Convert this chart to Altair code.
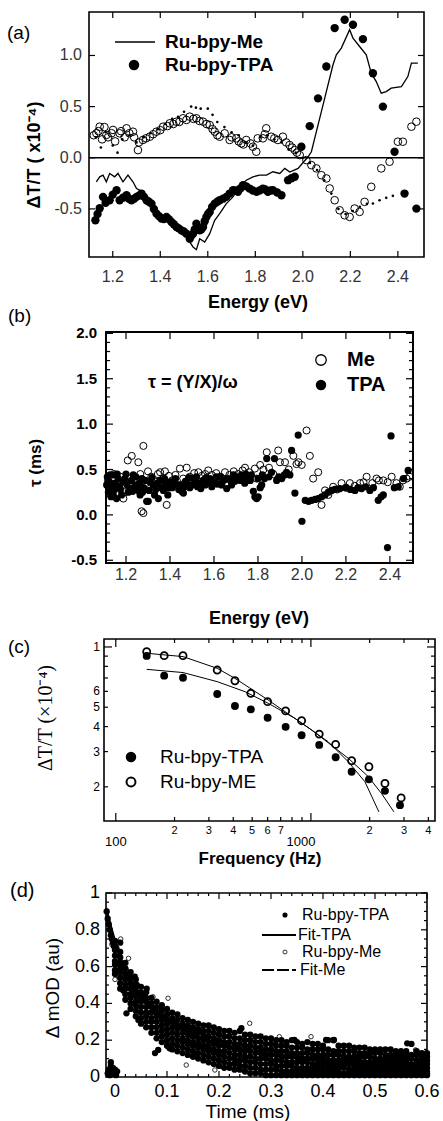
import altair as alt
import pandas as pd

SANS = "Liberation Sans"
SERIF = "Liberation Serif"

# ---------------- data ----------------
# (a) Energy (eV) vs dT/T (x1e-4)
A_ME_LINE = [(1.131,-0.235),(1.145,-0.186),(1.159,-0.170),(1.173,-0.235),(1.187,-0.153),(1.208,-0.186),
             (1.222,-0.153),(1.243,-0.235),(1.264,-0.170),(1.285,-0.235),(1.300,-0.301),(1.327,-0.333),
             (1.356,-0.415),(1.398,-0.546),(1.440,-0.611),(1.482,-0.710),(1.510,-0.775),(1.538,-0.872),
             (1.552,-0.898),(1.566,-0.791),(1.587,-0.824),(1.608,-0.742),(1.629,-0.611),(1.650,-0.546),
             (1.678,-0.448),(1.706,-0.382),(1.734,-0.284),(1.762,-0.219),(1.790,-0.186),(1.818,-0.170),
             (1.847,-0.170),(1.874,-0.137),(1.903,-0.153),(1.924,-0.104),(1.945,-0.140),(1.980,-0.104),
             (2.022,0.010),(2.036,0.059),(2.078,0.451),(2.127,0.909),(2.141,1.007),(2.162,1.072),
             (2.197,1.252),(2.211,1.170),(2.239,1.088),(2.267,1.007),(2.288,0.827),(2.309,0.745),
             (2.330,0.631),(2.351,0.647),(2.372,0.680),(2.415,0.696),(2.442,0.794),(2.457,0.925),(2.484,0.925)]
A_TPA = [(1.127,-0.611),(1.136,-0.55),(1.145,-0.494),(1.159,-0.382),(1.170,-0.44),(1.187,-0.415),(1.200,-0.36),
         (1.216,-0.317),(1.229,-0.415),(1.243,-0.39),(1.258,-0.366),(1.268,-0.40),(1.279,-0.415),(1.290,-0.40),
         (1.300,-0.382),(1.310,-0.37),(1.321,-0.350),(1.331,-0.38),(1.342,-0.415),(1.352,-0.43),(1.363,-0.448),
         (1.373,-0.50),(1.384,-0.546),(1.394,-0.57),(1.405,-0.595),(1.415,-0.60),(1.426,-0.579),(1.436,-0.60),
         (1.447,-0.628),(1.457,-0.65),(1.468,-0.677),(1.478,-0.69),(1.489,-0.710),(1.499,-0.72),(1.510,-0.742),
         (1.524,-0.791),(1.531,-0.76),(1.538,-0.742),(1.545,-0.70),(1.552,-0.644),(1.559,-0.68),(1.566,-0.710),
         (1.573,-0.70),(1.580,-0.677),(1.587,-0.62),(1.594,-0.579),(1.601,-0.55),(1.608,-0.530),(1.618,-0.48),
         (1.629,-0.448),(1.640,-0.43),(1.650,-0.415),(1.664,-0.40),(1.678,-0.382),(1.692,-0.35),(1.706,-0.317),
         (1.716,-0.32),(1.727,-0.333),(1.737,-0.30),(1.748,-0.268),(1.762,-0.28),(1.776,-0.301),(1.790,-0.32),
         (1.805,-0.333),(1.818,-0.32),(1.832,-0.301),(1.842,-0.31),(1.853,-0.333),(1.864,-0.32),(1.874,-0.317),
         (1.892,-0.34),(1.910,-0.366),(1.938,-0.219),(1.952,-0.20),(1.966,-0.186),(1.994,0.108),(2.029,0.309),
         (2.064,0.581),(2.099,0.892),(2.134,1.268),(2.176,1.349),(2.211,1.300),(2.253,1.160),(2.295,0.826),
         (2.337,0.500),(2.386,0.059),(2.428,-0.350),(2.478,-0.497)]
A_ME_Q = [(1.120,0.22),(1.131,0.239),(1.140,0.26),(1.145,0.304),(1.155,0.18),(1.165,0.30),(1.173,0.223),
          (1.180,0.20),(1.195,0.24),(1.201,0.272),(1.210,0.16),(1.229,0.239),(1.235,0.26),(1.250,0.20),
          (1.258,0.288),(1.270,0.24),(1.285,0.255),(1.290,0.20),(1.306,0.075),(1.310,0.15),(1.327,0.174),
          (1.340,0.19),(1.356,0.206),(1.370,0.23),(1.384,0.255),(1.400,0.27),(1.412,0.304),(1.430,0.31),
          (1.440,0.337),(1.455,0.33),(1.468,0.353),(1.480,0.35),(1.496,0.386),(1.510,0.37),(1.524,0.402),
          (1.540,0.38),(1.552,0.386),(1.565,0.36),(1.580,0.353),(1.595,0.33),(1.608,0.320),(1.620,0.28),
          (1.629,0.255),(1.640,0.22),(1.650,0.206),(1.671,0.239),(1.692,0.174),(1.700,0.20),(1.720,0.190),
          (1.730,0.16),(1.741,0.141),(1.750,0.13),(1.762,0.174),(1.780,0.14),(1.790,0.108),(1.804,0.059),
          (1.810,0.19),(1.832,0.190),(1.840,0.23),(1.846,0.288),(1.867,0.206),(1.880,0.19),(1.895,0.174),
          (1.916,0.206),(1.930,0.15),(1.944,0.124),(1.955,0.10),(1.966,0.075),(1.975,0.05),(1.987,0.026),
          (2.015,-0.023),(2.036,-0.072),(2.057,-0.104),(2.078,-0.170),(2.099,-0.202),(2.113,-0.300),
          (2.134,-0.415),(2.155,-0.513),(2.176,-0.562),(2.197,-0.578),(2.218,-0.496),(2.239,-0.529),
          (2.260,-0.431),(2.288,-0.284),(2.330,-0.104),(2.365,-0.039),(2.400,0.157),(2.421,0.157),
          (2.457,0.304),(2.478,0.353)]
A_TPA_Q = [(1.13,0.20),(1.15,0.10),(1.17,0.25),(1.20,0.12),(1.22,0.05),(1.24,0.18),(1.27,0.22),(1.30,0.15),
           (1.33,0.20),(1.36,0.24),(1.39,0.28),(1.42,0.33),(1.45,0.38),(1.475,0.40),(1.50,0.45),(1.53,0.50),
           (1.55,0.49),(1.57,0.48),(1.60,0.48),(1.62,0.42),(1.64,0.35),(1.67,0.30),(1.70,0.25),(1.73,0.22),
           (1.76,0.15),(1.79,0.12),(1.82,0.20),(1.85,0.22),(1.88,0.18),(1.91,0.15),(1.94,0.08),(1.97,0.05),
           (2.00,0.00),(2.03,-0.05),(2.06,-0.12),(2.09,-0.22),(2.12,-0.35),(2.15,-0.50),(2.18,-0.55),
           (2.21,-0.52),(2.24,-0.48),(2.27,-0.45),(2.295,-0.447),(2.323,-0.415),(2.351,-0.392),(2.379,-0.372)]

# (b) Energy (eV) vs tau (ms)
B_ME = [(1.118,0.38),(1.13,0.30),(1.145,0.45),(1.16,0.35),(1.175,0.42),(1.188,0.18),(1.195,0.25),(1.208,0.60),
        (1.215,0.40),(1.226,0.65),(1.24,0.38),(1.256,0.58),(1.265,0.45),(1.271,0.04),(1.279,0.02),(1.279,0.76),
        (1.29,0.35),(1.30,0.48),(1.315,0.42),(1.33,0.37),(1.345,0.45),(1.355,0.47),(1.37,0.40),(1.377,0.48),
        (1.385,0.11),(1.395,0.43),(1.41,0.38),(1.425,0.44),(1.445,0.51),(1.46,0.40),(1.476,0.52),(1.49,0.42),
        (1.51,0.46),(1.529,0.47),(1.545,0.43),(1.56,0.45),(1.574,0.49),(1.59,0.44),(1.61,0.46),(1.63,0.42),
        (1.65,0.47),(1.67,0.44),(1.69,0.48),(1.71,0.45),(1.73,0.49),(1.741,0.52),(1.76,0.47),(1.786,0.51),
        (1.794,0.40),(1.81,0.55),(1.825,0.50),(1.84,0.69),(1.85,0.52),(1.87,0.45),(1.892,0.71),(1.90,0.58),
        (1.923,0.58),(1.94,0.50),(1.961,0.65),(1.975,0.56),(1.984,0.58),(1.999,0.55),(2.021,0.93),(2.036,0.65),
        (2.051,0.40),(2.074,0.47),(2.089,0.11),(2.105,0.27),(2.12,0.22),(2.142,0.31),(2.16,0.28),(2.18,0.35),
        (2.20,0.30),(2.218,0.35),(2.24,0.32),(2.264,0.35),(2.28,0.36),(2.294,0.42),(2.32,0.35),(2.339,0.40),
        (2.35,0.38),(2.37,0.38),(2.39,0.36),(2.408,0.42),(2.43,0.35),(2.445,0.31),(2.46,0.38),(2.476,0.40),(2.49,0.42)]
B_TPA = [(1.112,0.33),(1.12,0.25),(1.127,0.44),(1.135,0.30),(1.142,0.22),(1.142,0.44),(1.15,0.35),(1.157,0.18),
         (1.165,0.40),(1.175,0.28),(1.188,0.36),(1.20,0.45),(1.21,0.25),(1.218,0.29),(1.225,0.38),(1.233,0.44),
         (1.24,0.32),(1.249,0.33),(1.256,0.27),(1.264,0.22),(1.272,0.40),(1.28,0.30),(1.294,0.15),(1.301,0.15),
         (1.31,0.36),(1.324,0.33),(1.335,0.28),(1.347,0.18),(1.355,0.38),(1.37,0.27),(1.38,0.33),(1.39,0.22),
         (1.40,0.36),(1.41,0.30),(1.425,0.40),(1.435,0.33),(1.445,0.33),(1.453,0.26),(1.461,0.24),(1.47,0.37),
         (1.48,0.34),(1.49,0.30),(1.506,0.40),(1.515,0.36),(1.525,0.31),(1.536,0.35),(1.55,0.38),(1.56,0.33),
         (1.57,0.36),(1.582,0.40),(1.595,0.35),(1.605,0.38),(1.615,0.34),(1.627,0.42),(1.64,0.37),(1.658,0.29),
         (1.665,0.40),(1.675,0.38),(1.688,0.44),(1.70,0.40),(1.712,0.42),(1.72,0.38),(1.733,0.40),(1.745,0.45),
         (1.755,0.42),(1.765,0.38),(1.779,0.26),(1.786,0.20),(1.794,0.18),(1.801,0.20),(1.81,0.30),(1.817,0.33),
         (1.83,0.40),(1.84,0.62),(1.85,0.42),(1.862,0.47),(1.875,0.62),(1.885,0.38),(1.895,0.42),(1.908,0.40),
         (1.92,0.44),(1.93,0.47),(1.945,0.44),(1.953,0.71),(1.968,0.24),(1.983,0.88),(2.000,-0.07),(2.015,0.16),
         (2.03,0.15),(2.044,0.16),(2.06,0.17),(2.074,0.18),(2.09,0.20),(2.105,0.22),(2.12,0.25),(2.135,0.27),
         (2.15,0.28),(2.173,0.29),(2.20,0.30),(2.22,0.28),(2.241,0.27),(2.255,0.30),(2.271,0.29),(2.29,0.31),
         (2.309,0.27),(2.325,0.30),(2.347,0.16),(2.36,0.20),(2.37,0.22),(2.389,-0.36),(2.405,0.87),(2.42,0.30),
         (2.438,0.31),(2.461,0.40),(2.483,0.49),
         (1.115,0.42),(1.125,0.36),(1.132,0.20),(1.148,0.28),(1.16,0.45),(1.17,0.32),(1.18,0.22),(1.195,0.40),
         (1.205,0.33),(1.23,0.26),(1.245,0.42),(1.26,0.35),(1.275,0.25),(1.287,0.38),(1.305,0.27),(1.318,0.41),
         (1.33,0.22),(1.342,0.35),(1.36,0.30),(1.375,0.40),(1.395,0.30),(1.418,0.34),(1.44,0.28),(1.465,0.31),
         (1.485,0.41),(1.50,0.33),(1.52,0.42),(1.54,0.29),(1.565,0.41),(1.59,0.31),(1.61,0.42),(1.635,0.33),
         (1.65,0.39),(1.68,0.33),(1.695,0.37),(1.725,0.44),(1.74,0.35),(1.77,0.44),(1.80,0.40),(1.82,0.44)]

# (c) Frequency (Hz) vs dT/T (x1e-4), log-log
C_TPA = [(144,0.902),(177,0.719),(221,0.702),(331,0.582),(408,0.507),(492,0.488),(600,0.443),(742,0.399),
         (896,0.362),(1103,0.324),(1339,0.281),(1617,0.238),(1983,0.218),(2396,0.191),(2861,0.162)]
C_ME = [(144,0.947),(177,0.905),(221,0.905),(331,0.767),(408,0.678),(492,0.587),(600,0.533),(742,0.479),
        (896,0.428),(1103,0.367),(1339,0.326),(1617,0.270),(1983,0.252),(2396,0.208),(2900,0.176)]
C_FIT_ME = [(144,0.930),(221,0.895),(331,0.782),(408,0.697),(604,0.543),(1008,0.385),(1553,0.278),
            (1968,0.225),(2303,0.185),(2662,0.150)]
C_FIT_TPA = [(144,0.773),(221,0.745),(331,0.671),(459,0.598),(604,0.523),(828,0.440),(1227,0.336),
             (1553,0.267),(1892,0.212),(2230,0.150)]

# (d) Time (ms) vs dmOD (au)
D_TPA = [(-0.014,0.02),(-0.012,0.04),(-0.010,0.01),(-0.008,0.06),(-0.006,0.03),(-0.004,0.05),(-0.002,0.02),
         (0.000,0.04),(0.002,0.01),(0.004,0.03),(-0.008,0.08),
         (-0.016,0.90),(-0.014,0.86),(-0.012,0.83),(-0.010,0.80),(-0.008,0.77),(-0.006,0.75),(-0.004,0.73),
         (-0.002,0.71),(0.002,0.70),(0.006,0.62),(0.010,0.73),(0.013,0.60),(0.016,0.47),(0.020,0.56),
         (0.025,0.54),(0.030,0.51),(0.035,0.45),(0.038,0.545),(0.042,0.50),(0.050,0.42),(0.055,0.44),
         (0.061,0.48),(0.077,0.13),(0.083,0.147),(0.089,0.373),(0.022,0.346),(0.045,0.31),(0.105,0.156),
         (0.153,0.129),(0.179,0.165),(0.230,0.074),(0.281,0.129),(0.243,0.265),(0.345,0.201),(0.406,0.201),
         (0.421,0.201),(0.562,0.183)]
# dense band of TPA points: a time, then the spread of values seen at that time
D_TPA_BAND = [
    (0.00, [0.74, 0.71, 0.69, 0.66, 0.63, 0.61, 0.58, 0.56]),
    (0.01, [0.68, 0.65, 0.62, 0.59, 0.57, 0.54, 0.51, 0.48]),
    (0.02, [0.62, 0.59, 0.56, 0.53, 0.50, 0.48, 0.45, 0.42]),
    (0.03, [0.57, 0.54, 0.51, 0.48, 0.45, 0.43, 0.40, 0.37]),
    (0.04, [0.53, 0.50, 0.47, 0.44, 0.41, 0.39, 0.36, 0.33]),
    (0.05, [0.49, 0.46, 0.43, 0.41, 0.38, 0.35, 0.32, 0.29]),
    (0.06, [0.46, 0.43, 0.41, 0.38, 0.35, 0.33, 0.30, 0.27]),
    (0.07, [0.43, 0.40, 0.38, 0.35, 0.32, 0.30, 0.27, 0.24]),
    (0.08, [0.41, 0.38, 0.35, 0.33, 0.30, 0.27, 0.24, 0.21]),
    (0.09, [0.39, 0.36, 0.33, 0.31, 0.28, 0.25, 0.22, 0.19]),
    (0.10, [0.37, 0.34, 0.31, 0.29, 0.26, 0.23, 0.20, 0.17]),
    (0.11, [0.35, 0.32, 0.30, 0.27, 0.24, 0.21, 0.18, 0.15]),
    (0.12, [0.34, 0.31, 0.28, 0.26, 0.23, 0.20, 0.17, 0.14]),
    (0.13, [0.32, 0.29, 0.27, 0.24, 0.21, 0.19, 0.16, 0.13]),
    (0.14, [0.31, 0.28, 0.26, 0.23, 0.20, 0.18, 0.15, 0.12]),
    (0.15, [0.30, 0.27, 0.25, 0.22, 0.19, 0.17, 0.14, 0.11]),
    (0.16, [0.29, 0.26, 0.24, 0.21, 0.18, 0.16, 0.13, 0.10]),
    (0.17, [0.28, 0.25, 0.23, 0.20, 0.17, 0.15, 0.12, 0.09]),
    (0.18, [0.28, 0.25, 0.22, 0.19, 0.16, 0.14, 0.11, 0.08]),
    (0.19, [0.27, 0.24, 0.21, 0.18, 0.15, 0.13, 0.10, 0.07]),
    (0.20, [0.26, 0.23, 0.20, 0.17, 0.14, 0.12, 0.09, 0.06]),
    (0.21, [0.25, 0.22, 0.19, 0.17, 0.14, 0.11, 0.08, 0.05]),
    (0.22, [0.25, 0.22, 0.19, 0.16, 0.13, 0.10, 0.07, 0.05]),
    (0.23, [0.24, 0.21, 0.18, 0.15, 0.12, 0.10, 0.07, 0.04]),
    (0.24, [0.25, 0.21, 0.18, 0.15, 0.12, 0.09, 0.06, 0.04]),
    (0.25, [0.23, 0.20, 0.17, 0.14, 0.11, 0.09, 0.06, 0.03]),
    (0.26, [0.23, 0.20, 0.17, 0.14, 0.11, 0.08, 0.05, 0.02]),
    (0.27, [0.22, 0.19, 0.16, 0.13, 0.10, 0.08, 0.05, 0.02]),
    (0.28, [0.22, 0.19, 0.16, 0.13, 0.10, 0.07, 0.04, 0.02]),
    (0.29, [0.21, 0.18, 0.15, 0.12, 0.10, 0.07, 0.04, 0.01]),
    (0.30, [0.21, 0.18, 0.15, 0.12, 0.09, 0.07, 0.04, 0.01]),
    (0.31, [0.20, 0.17, 0.14, 0.12, 0.09, 0.06, 0.04, 0.01]),
    (0.32, [0.20, 0.17, 0.14, 0.11, 0.09, 0.06, 0.03, 0.01]),
    (0.33, [0.19, 0.17, 0.14, 0.11, 0.08, 0.06, 0.03, 0.01]),
    (0.34, [0.20, 0.16, 0.13, 0.11, 0.08, 0.06, 0.03, 0.01]),
    (0.35, [0.19, 0.16, 0.13, 0.11, 0.08, 0.05, 0.03, 0.01]),
    (0.36, [0.18, 0.16, 0.13, 0.10, 0.08, 0.05, 0.03, 0.01]),
    (0.37, [0.19, 0.15, 0.13, 0.10, 0.08, 0.05, 0.03, 0.01]),
    (0.38, [0.18, 0.15, 0.12, 0.10, 0.07, 0.05, 0.03, 0.01]),
    (0.39, [0.18, 0.15, 0.12, 0.10, 0.07, 0.05, 0.03, 0.01]),
    (0.40, [0.17, 0.15, 0.12, 0.10, 0.07, 0.05, 0.03, 0.01]),
    (0.41, [0.20, 0.15, 0.12, 0.09, 0.07, 0.05, 0.03, 0.01]),
    (0.42, [0.20, 0.14, 0.12, 0.09, 0.07, 0.05, 0.03, 0.01]),
    (0.43, [0.17, 0.14, 0.12, 0.09, 0.07, 0.05, 0.03, 0.01]),
    (0.44, [0.17, 0.14, 0.11, 0.09, 0.07, 0.05, 0.02, 0.01]),
    (0.45, [0.17, 0.14, 0.11, 0.09, 0.07, 0.04, 0.02, 0.01]),
    (0.46, [0.16, 0.14, 0.11, 0.09, 0.06, 0.04, 0.02, 0.01]),
    (0.47, [0.16, 0.13, 0.11, 0.09, 0.06, 0.04, 0.02, 0.01]),
    (0.48, [0.16, 0.13, 0.11, 0.08, 0.06, 0.04, 0.02, 0.01]),
    (0.49, [0.15, 0.13, 0.11, 0.08, 0.06, 0.04, 0.02, 0.01]),
    (0.50, [0.15, 0.13, 0.10, 0.08, 0.06, 0.04, 0.02, 0.01]),
    (0.51, [0.15, 0.13, 0.10, 0.08, 0.06, 0.04, 0.02, 0.01]),
    (0.52, [0.15, 0.12, 0.10, 0.08, 0.06, 0.04, 0.02, 0.01]),
    (0.53, [0.15, 0.12, 0.10, 0.08, 0.06, 0.04, 0.02, 0.01]),
    (0.54, [0.14, 0.12, 0.10, 0.08, 0.06, 0.04, 0.02, 0.01]),
    (0.55, [0.14, 0.12, 0.10, 0.08, 0.06, 0.04, 0.02, 0.01]),
    (0.56, [0.14, 0.12, 0.10, 0.08, 0.05, 0.04, 0.02, 0.01]),
    (0.57, [0.18, 0.12, 0.10, 0.07, 0.05, 0.03, 0.02, 0.01]),
    (0.58, [0.14, 0.12, 0.09, 0.07, 0.05, 0.03, 0.02, 0.01]),
    (0.59, [0.13, 0.11, 0.09, 0.07, 0.05, 0.03, 0.02, 0.01]),
    (0.60, [0.13, 0.11, 0.09, 0.07, 0.05, 0.03, 0.02, 0.01])]
D_ME = [(-0.012,0.80),(-0.006,0.72),(0.000,0.53),(0.004,0.70),(0.006,0.55),(0.011,0.75),(0.016,0.62),
        (0.022,0.58),(0.026,0.645),(0.032,0.50),(0.038,0.46),(0.045,0.42),(0.052,0.40),(0.060,0.34),
        (0.066,0.37),(0.073,0.436),(0.080,0.30),(0.088,0.33),(0.095,0.27),(0.102,0.428),(0.110,0.29),
        (0.118,0.24),(0.126,0.27),(0.135,0.22),(0.137,0.065),(0.145,0.25),(0.155,0.21),(0.165,0.18),
        (0.175,0.23),(0.185,0.17),(0.192,0.038),(0.200,0.19),(0.212,0.15),(0.225,0.17),(0.238,0.13),
        (0.250,0.16),(0.259,0.292),(0.268,0.038),(0.280,0.14),(0.292,0.12),(0.305,0.10),(0.316,0.219),
        (0.330,0.13),(0.345,0.09),(0.360,0.11),(0.377,0.219),(0.390,0.08),(0.405,0.12),(0.420,0.07),
        (0.435,0.10),(0.450,0.06),(0.465,0.11),(0.480,0.08),(0.495,0.05),(0.510,0.09),(0.525,0.07),
        (0.540,0.12),(0.555,0.06),(0.565,0.08),(0.578,0.147),(0.590,0.05),(0.598,0.13)]
D_FIT_TPA = [(-0.017,0.92),(-0.01,0.84),(0.0,0.74),(0.01,0.65),(0.02,0.58),(0.03,0.52),(0.04,0.47),(0.06,0.40),
             (0.08,0.35),(0.10,0.31),(0.13,0.26),(0.16,0.22),(0.20,0.18),(0.25,0.145),(0.30,0.12),(0.35,0.10),
             (0.40,0.085),(0.45,0.075),(0.50,0.065),(0.55,0.06),(0.60,0.055)]
D_FIT_ME = [(-0.017,0.90),(-0.01,0.83),(0.0,0.73),(0.01,0.65),(0.02,0.58),(0.03,0.53),(0.04,0.48),(0.06,0.41),
            (0.08,0.36),(0.10,0.32),(0.13,0.27),(0.16,0.23),(0.20,0.19),(0.25,0.155),(0.30,0.13),(0.35,0.11),
            (0.40,0.095),(0.45,0.085),(0.50,0.075),(0.55,0.07),(0.60,0.065)]

# ticks and tick labels
A_XT = [1.2, 1.4, 1.6, 1.8, 2.0, 2.2, 2.4]
A_XL = ["1.2", "1.4", "1.6", "1.8", "2.0", "2.2", "2.4"]
A_YT = [-0.5, 0.0, 0.5, 1.0]
A_YL = ["-0.5", "0.0", "0.5", "1.0"]
B_XT = [1.2, 1.4, 1.6, 1.8, 2.0, 2.2, 2.4]
B_XL = ["1.2", "1.4", "1.6", "1.8", "2.0", "2.2", "2.4"]
B_YT = [-0.5, 0.0, 0.5, 1.0, 1.5, 2.0]
B_YL = ["-0.5", "0.0", "0.5", "1.0", "1.5", "2.0"]
B_YM = [-0.4, -0.3, -0.2, -0.1, 0.1, 0.2, 0.3, 0.4, 0.6, 0.7, 0.8, 0.9, 1.1, 1.2, 1.3, 1.4,
        1.6, 1.7, 1.8, 1.9]
C_XT = [100, 1000]
C_XM = [200, 300, 400, 500, 600, 700, 800, 900, 2000, 3000, 4000]
C_XLV = [200, 300, 400, 500, 600, 700, 2000, 3000, 4000]
C_XL = ["2", "3", "4", "5", "6", "7", "2", "3", "4"]
C_YT = [1.0]
C_YM = [0.2, 0.3, 0.4, 0.5, 0.6, 0.7, 0.8, 0.9]
C_YLV = [0.2, 0.3, 0.4, 0.5, 0.6, 1.0]
C_YL = ["2", "3", "4", "5", "6", "1"]
D_XT = [0.0, 0.1, 0.2, 0.3, 0.4, 0.5, 0.6]
D_XL = ["0", "0.1", "0.2", "0.3", "0.4", "0.5", "0.6"]
D_XM = [0.02, 0.04, 0.06, 0.08, 0.12, 0.14, 0.16, 0.18, 0.22, 0.24, 0.26, 0.28, 0.32, 0.34, 0.36, 0.38,
        0.42, 0.44, 0.46, 0.48, 0.52, 0.54, 0.56, 0.58]
D_YT = [0.0, 0.2, 0.4, 0.6, 0.8, 1.0]
D_YL = ["0", "0.2", "0.4", "0.6", "0.8", "1"]
D_YM = [0.05, 0.1, 0.15, 0.25, 0.3, 0.35, 0.45, 0.5, 0.55, 0.65, 0.7, 0.75, 0.85, 0.9, 0.95]

# ---------------- helpers ----------------
ONE = pd.DataFrame({"k": [0]})


def frame(pairs):
    return pd.DataFrame(pairs, columns=["x", "y"])


def band(rows):
    return pd.DataFrame([(x, y) for x, ys in rows for y in ys], columns=["x", "y"])


def lin(domain, rng):
    return alt.Scale(domain=domain, range=rng, nice=False, zero=False)


def logs(domain, rng):
    return alt.Scale(type="log", domain=domain, range=rng, nice=False)


def X(sc, f="x"):
    return alt.X(f + ":Q", scale=sc, axis=None)


def Y(sc, f="y"):
    return alt.Y(f + ":Q", scale=sc, axis=None)


def filled(df, sx, sy, size):
    return alt.Chart(df).mark_circle(color="black", size=size, opacity=1).encode(x=X(sx), y=Y(sy))


def hollow(df, sx, sy, size, sw=1.0):
    return alt.Chart(df).mark_point(shape="circle", filled=False, color="black", size=size,
                                    strokeWidth=sw, opacity=1).encode(x=X(sx), y=Y(sy))


def curve(df, sx, sy, sw=1.2, dash=None):
    kw = dict(color="black", strokeWidth=sw)
    if dash:
        kw["strokeDash"] = dash
    return alt.Chart(df).mark_line(**kw).encode(x=X(sx), y=Y(sy))


def txt(s, x, y, size, weight="normal", font=SANS, align="left", color="black", angle=0):
    kw = dict(align=align, baseline="middle", font=font, fontSize=size, fontWeight=weight, color=color)
    if angle:
        kw["angle"] = angle
    return alt.Chart(pd.DataFrame({"t": [s]})).mark_text(**kw).encode(
        x=alt.value(x), y=alt.value(y), text="t:N")


def sym(x, y, size, full=True, sw=1.0):
    if full:
        m = alt.Chart(ONE).mark_circle(color="black", size=size, opacity=1)
    else:
        m = alt.Chart(ONE).mark_point(shape="circle", filled=False, color="black", size=size,
                                      strokeWidth=sw, opacity=1)
    return m.encode(x=alt.value(x), y=alt.value(y))


def hseg(x1, x2, y, sw=1.2, dash=None):
    kw = dict(color="black", strokeWidth=sw)
    if dash:
        kw["strokeDash"] = dash
    return alt.Chart(ONE).mark_rule(**kw).encode(x=alt.value(x1), x2=alt.value(x2), y=alt.value(y))


def box(x1, y1, x2, y2, sw=1.6):
    return alt.Chart(ONE).mark_rect(fill="white", fillOpacity=0, stroke="black", strokeWidth=sw).encode(
        x=alt.value(x1), x2=alt.value(x2), y=alt.value(y1), y2=alt.value(y2))


def xticks(vals, sc, yb, yt, L, sw=1.2):
    base = alt.Chart(pd.DataFrame({"v": vals})).mark_rule(color="black", strokeWidth=sw)
    return [base.encode(x=X(sc, "v"), y=alt.value(yb), y2=alt.value(yb - L)),
            base.encode(x=X(sc, "v"), y=alt.value(yt), y2=alt.value(yt + L))]


def yticks(vals, sc, xl, xr, L, sw=1.2):
    base = alt.Chart(pd.DataFrame({"v": vals})).mark_rule(color="black", strokeWidth=sw)
    return [base.encode(y=Y(sc, "v"), x=alt.value(xl), x2=alt.value(xl + L)),
            base.encode(y=Y(sc, "v"), x=alt.value(xr), x2=alt.value(xr - L))]


def xlabels(vals, texts, sc, y, size, color="black", weight="normal", dx=0):
    return alt.Chart(pd.DataFrame({"v": vals, "t": texts})).mark_text(
        align="center", baseline="middle", font=SANS, fontSize=size, color=color, fontWeight=weight, dx=dx
    ).encode(x=X(sc, "v"), y=alt.value(y), text="t:N")


def ylabels(vals, texts, sc, x, size, color="black", weight="normal"):
    return alt.Chart(pd.DataFrame({"v": vals, "t": texts})).mark_text(
        align="right", baseline="middle", font=SANS, fontSize=size, color=color, fontWeight=weight
    ).encode(y=Y(sc, "v"), x=alt.value(x), text="t:N")


layers = []

# ---------------- panel (a) ----------------
AL, AR, AT, AB = 89, 424, 12, 257
xa = lin([1.1, 2.51], [AL, AR])
ya = lin([-0.97, 1.425], [AB, AT])
layers += [
    alt.Chart(pd.DataFrame({"v": [0.0]})).mark_rule(color="black", strokeWidth=1.5).encode(
        y=Y(ya, "v"), x=alt.value(AL), x2=alt.value(AR)),
    filled(frame(A_TPA), xa, ya, 70),
    hollow(frame(A_ME_Q), xa, ya, 58, 1.0),
    filled(frame(A_TPA_Q), xa, ya, 7),
    curve(frame(A_ME_LINE), xa, ya, 1.3),
    *xticks(A_XT, xa, AB, AT, 6), *yticks(A_YT, ya, AL, AR, 6),
    box(AL, AT, AR, AB),
    xlabels(A_XT, A_XL, xa, 277, 16, "#333"),
    ylabels(A_YT, A_YL, ya, 82, 16, "#333"),
    txt("Energy (eV)", 258, 303, 18, "bold", align="center"),
    txt("ΔT/T ( x10⁻⁴)", 35, 155, 18, "bold", align="center", angle=270),
    hseg(115, 155, 42, 1.5), txt("Ru-bpy-Me", 165, 42, 19, "bold"),
    sym(134, 65, 110), txt("Ru-bpy-TPA", 165, 65, 19, "bold"),
    txt("(a)", 7, 33, 19),
]

# ---------------- panel (b) ----------------
BL, BR, BT, BB = 106, 413, 332, 563
xb = lin([1.109, 2.505], [BL, BR])
yb = lin([-0.53, 2.015], [BB, BT])
layers += [
    filled(frame(B_TPA), xb, yb, 52),
    hollow(frame(B_ME), xb, yb, 50, 1.0),
    *xticks(B_XT, xb, BB, BT, 7), *yticks(B_YT, yb, BL, BR, 7), *yticks(B_YM, yb, BL, BR, 4),
    box(BL, BT, BR, BB, 2.0),
    xlabels(B_XT, B_XL, xb, 575, 16, "#333"),
    ylabels(B_YT, B_YL, yb, 97, 15, "black", "bold"),
    txt("Energy (eV)", 259, 619, 18, "bold", align="center"),
    txt("τ (ms)", 36, 463, 17, "bold", align="center", angle=270),
    sym(321, 360, 110, False, 1.3), txt("Me", 347, 360, 20, "bold"),
    sym(321, 385, 110), txt("TPA", 347, 385, 20, "bold"),
    txt("τ = (Y/X)/ω", 148, 383, 18, "bold"),
    txt("(b)", 8, 316, 19),
]

# ---------------- panel (c) ----------------
CL, CR, CT, CB = 104, 435, 639, 821
xc = logs([87, 4325], [CL, CR])
yc = logs([0.135, 1.096], [CB, CT])
layers += [
    curve(frame(C_FIT_ME), xc, yc, 1.0), curve(frame(C_FIT_TPA), xc, yc, 1.0),
    filled(frame(C_TPA), xc, yc, 62),
    hollow(frame(C_ME), xc, yc, 50, 1.8),
    *xticks(C_XT, xc, CB, CT, 8), *xticks(C_XM, xc, CB, CT, 4),
    *yticks(C_YT, yc, CL, CR, 8), *yticks(C_YM, yc, CL, CR, 4),
    box(CL, CT, CR, CB),
    xlabels(C_XLV, C_XL, xc, 831, 11),
    xlabels([100], ["100"], xc, 842, 13),
    xlabels([1000], ["1000"], xc, 842, 13, dx=-10),
    ylabels(C_YLV, C_YL, yc, 100, 12),
    txt("Frequency (Hz)", 260, 859, 17, "bold", align="center"),
    txt("ΔT/T (×10⁻⁴)", 46, 718, 20, font=SERIF, align="center", angle=270),
    sym(131, 757, 110), txt("Ru-bpy-TPA", 160, 757, 19),
    sym(131, 782, 80, False, 2.0), txt("Ru-bpy-ME", 160, 782, 19),
    txt("(c)", 8, 647, 19),
]

# ---------------- panel (d) ----------------
DL, DR, DT, DB = 106, 427, 893, 1077
xd = lin([-0.0173, 0.6], [DL, DR])
yd = lin([0.0, 1.0], [DB, DT])
layers += [
    filled(band(D_TPA_BAND), xd, yd, 40),
    filled(frame(D_TPA), xd, yd, 40),
    hollow(frame(D_ME), xd, yd, 20, 0.8),
    curve(frame(D_FIT_TPA), xd, yd, 2.2),
    curve(frame(D_FIT_ME), xd, yd, 2.0, [8, 3]),
    *xticks(D_XT, xd, DB, DT, 6), *xticks(D_XM, xd, DB, DT, 3),
    *yticks(D_YT, yd, DL, DR, 6), *yticks(D_YM, yd, DL, DR, 3),
    box(DL, DT, DR, DB),
    xlabels(D_XT, D_XL, xd, 1092, 18),
    ylabels(D_YT, D_YL, yd, 100, 18),
    txt("Time (ms)", 248, 1112, 19, align="center"),
    txt("Δ mOD (au)", 53, 988, 19, align="center", angle=270),
    sym(285, 915, 26), txt("Ru-bpy-TPA", 302, 915, 16),
    hseg(262, 296, 935, 2.0), txt("Fit-TPA", 298, 935, 16),
    sym(285, 952, 16, False, 0.8), txt("Ru-bpy-Me", 302, 952, 16),
    hseg(262, 296, 970, 2.0, [12, 3]), txt("Fit-Me", 300, 970, 16),
    txt("(d)", 10, 891, 20),
]

chart = alt.layer(*layers).resolve_scale(x="independent", y="independent").properties(
    width=443, height=1121, padding=0, autosize=alt.AutoSizeParams(type="none")
).configure_view(strokeWidth=0)

chart.save("out.html", embed_options={"renderer": "svg", "actions": False})
